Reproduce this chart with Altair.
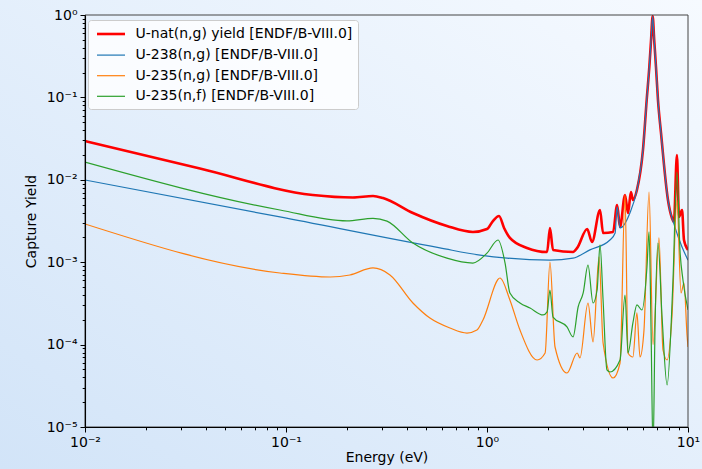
import altair as alt
import pandas as pd

# Series labels, colours and line widths
series_names = [
    "U-nat(n,g) yield [ENDF/B-VIII.0]",
    "U-238(n,g) [ENDF/B-VIII.0]",
    "U-235(n,g) [ENDF/B-VIII.0]",
    "U-235(n,f) [ENDF/B-VIII.0]",
]
series_colors = ["#ff0000", "#1f77b4", "#ff7f0e", "#2ca02c"]
series_widths = [2.6, 1.2, 1.2, 1.2]

# Natural uranium capture yield
unat_energy = [0.01, 0.0373, 0.136, 0.215, 0.271, 0.304, 0.428, 0.632, 0.851, 1.0, 1.07,
               1.148, 1.216, 1.30, 1.581, 1.991, 2.057, 2.13, 2.68, 2.81, 3.15, 3.33, 3.65,
               3.78, 4.24, 4.44, 4.59, 4.86, 5.03, 5.20, 5.32, 5.57, 5.97, 6.23, 6.42, 6.55,
               6.67, 6.79, 6.93, 7.09, 7.34, 7.95, 8.32, 8.51, 8.81, 9.02, 9.34, 9.55, 10.0]
unat_yield = [0.0296, 0.0137, 0.00654, 0.0061, 0.00636, 0.00601, 0.00395, 0.00275, 0.00233,
              0.00253, 0.00316, 0.00364, 0.0026, 0.00197, 0.00149, 0.00133, 0.0026, 0.00141,
              0.00133, 0.00149, 0.00253, 0.00176, 0.0043, 0.00226, 0.00233, 0.00494, 0.00267,
              0.00654, 0.00395, 0.00711, 0.00568, 0.00752, 0.023, 0.093, 0.234, 0.497, 0.97,
              0.497, 0.234, 0.093, 0.037, 0.00568, 0.00344, 0.00308, 0.02, 0.00354, 0.0043,
              0.00186, 0.00141]

# U-238 capture
u238g_energy = [0.01, 0.0933, 0.583, 0.923, 1.259, 2.057, 2.68, 3.25, 4.09, 4.34, 4.44, 4.59,
                5.14, 5.57, 5.97, 6.23, 6.42, 6.55, 6.67, 6.79, 6.93, 7.09, 7.34, 7.95, 8.61,
                9.34, 10.0]
u238g_yield = [0.00995, 0.00354, 0.00149, 0.00122, 0.00112, 0.00106, 0.00112, 0.00141, 0.00186,
               0.00226, 0.00468, 0.0026, 0.00395, 0.00752, 0.023, 0.093, 0.234, 0.497, 0.97,
               0.497, 0.234, 0.093, 0.037, 0.00568, 0.00267, 0.00153, 0.00106]

# U-235 capture
u235g_energy = [0.01, 0.0933, 0.166, 0.208, 0.271, 0.329, 0.428, 0.52, 0.654, 0.795, 0.891,
                0.955, 1.161, 1.30, 1.459, 1.775, 1.946, 2.057, 2.18, 2.50, 2.81, 2.90, 3.18,
                3.37, 3.61, 3.78, 4.24, 4.59, 4.86, 5.03, 5.32, 5.57, 5.77, 6.04, 6.40, 6.70,
                7.17, 7.51, 7.87, 8.32, 8.81, 9.23, 9.55, 9.89, 10.0]
u235g_yield = [0.00291, 0.00074, 0.000661, 0.0007, 0.000851, 0.0007, 0.00032, 0.00021,
               0.000159, 0.000138, 0.00015, 0.000199, 0.000643, 0.000348, 0.00015, 0.000065,
               0.0000791, 0.001, 0.0000935, 0.0000452, 0.0000791, 0.0000688, 0.00032, 0.000108,
               0.00116, 0.000105, 0.0000393, 0.0000598, 0.00654, 0.0000791, 0.0000707, 0.000242,
               0.0000707, 0.00015, 0.00711, 0.0001, 0.00197, 0.000086, 0.000065, 0.000216,
               0.00568, 0.000423, 0.000559, 0.000131, 0.0000935]

# U-235 fission
u235f_energy = [0.01, 0.0933, 0.201, 0.271, 0.318, 0.428, 0.632, 0.851, 1.0, 1.135, 1.23, 1.30,
                1.459, 1.637, 1.901, 1.991, 2.057, 2.13, 2.50, 2.68, 2.84, 3.01, 3.18, 3.37,
                3.53, 3.65, 3.78, 3.95, 4.09, 4.59, 4.86, 5.03, 5.32, 5.57, 5.90, 6.25, 6.40,
                6.55, 6.70, 6.85, 7.09, 7.43, 7.87, 8.41, 8.81, 9.12, 9.44, 10.0]
u235f_yield = [0.0164, 0.0043, 0.00317, 0.00341, 0.00315, 0.00171, 0.00112, 0.000977, 0.00129,
               0.00186, 0.000977, 0.000423, 0.00032, 0.000278, 0.000229, 0.000249, 0.00046,
               0.000216, 0.000164, 0.000124, 0.000286, 0.000423, 0.000925, 0.00032, 0.00046,
               0.00162, 0.000348, 0.0000492, 0.0000465, 0.000065, 0.0004, 0.0000791, 0.000183,
               0.000303, 0.000263, 0.000875, 0.00233, 0.00015, 0.000005, 0.00015, 0.00171,
               0.000216, 0.0000324, 0.000559, 0.01244, 0.00141, 0.000608, 0.000263]

# Axis tick positions and labels
x_major = [0.01, 0.1, 1, 10]
x_major_labels = ["10\u207b\u00b2", "10\u207b\u00b9", "10\u2070", "10\u00b9"]
y_major = [0.00001, 0.0001, 0.001, 0.01, 0.1, 1]
y_major_labels = ["10\u207b\u2075", "10\u207b\u2074", "10\u207b\u00b3",
                  "10\u207b\u00b2", "10\u207b\u00b9", "10\u2070"]

W, H = 603, 412

rows = []
for name, es, ys in zip(series_names,
                        [unat_energy, u238g_energy, u235g_energy, u235f_energy],
                        [unat_yield, u238g_yield, u235g_yield, u235f_yield]):
    for i, (e, y) in enumerate(zip(es, ys)):
        rows.append({"series": name, "energy": e, "yield": y, "idx": i})
df = pd.DataFrame(rows)


def minor_ticks(majors):
    vals = []
    for m in majors[:-1]:
        vals += [m * k for k in range(2, 10)]
    return vals


def label_expr(values, labels):
    expr = "''"
    for v, lab in zip(reversed(values), reversed(labels)):
        expr = f"datum.value == {v} ? '{lab}' : ({expr})"
    return expr


def major_test(values):
    return "indexof([" + ",".join(str(v) for v in values) + "], datum.value) >= 0"


axis_style = dict(
    grid=False,
    zindex=1,
    domainColor="#000000",
    domainWidth=1.1,
    tickColor="#000000",
    tickWidth=1,
    labelFont="DejaVu Sans",
    labelFontSize=14,
    labelColor="#000000",
    labelPadding=3,
    labelOverlap=False,
    labelFlush=False,
    titleFont="DejaVu Sans",
    titleFontSize=14,
    titleFontWeight="normal",
    titleColor="#000000",
)

x_axis = alt.Axis(
    values=x_major + minor_ticks(x_major),
    labelExpr=label_expr(x_major, x_major_labels),
    tickSize={"condition": {"test": major_test(x_major), "value": 5}, "value": 2.8},
    title="Energy (eV)",
    titlePadding=1,
    **axis_style,
)
y_axis = alt.Axis(
    values=y_major + minor_ticks(y_major),
    labelExpr=label_expr(y_major, y_major_labels),
    tickSize={"condition": {"test": major_test(y_major), "value": 5}, "value": 2.8},
    title="Capture Yield",
    titlePadding=8,
    **axis_style,
)

x_enc = alt.X("energy:Q", scale=alt.Scale(type="log", domain=[0.01, 10], nice=False), axis=x_axis)
y_enc = alt.Y("yield:Q", scale=alt.Scale(type="log", domain=[0.00001, 1], nice=False), axis=y_axis)
legend = alt.Legend(title=None)
color_enc = alt.Color("series:N", scale=alt.Scale(domain=series_names, range=series_colors), legend=legend)
width_enc = alt.StrokeWidth("series:N", scale=alt.Scale(type="ordinal", domain=series_names, range=series_widths), legend=legend)

# Soft gradient backdrop behind the whole figure
backdrop = alt.Chart(alt.Data(values=[{"k": 1}])).mark_rect(
    fill=alt.LinearGradient(
        gradient="linear",
        x1=0, y1=1, x2=1, y2=0,
        stops=[alt.GradientStop(offset=0, color="#d2e4f8"),
               alt.GradientStop(offset=1, color="#f6faff")],
    )
).encode(x=alt.value(-85), x2=alt.value(W + 14), y=alt.value(-15), y2=alt.value(H + 42))

base = alt.Chart(df)
lines = [
    base.transform_filter(alt.datum.series == name)
    .mark_line(clip=True, interpolate="monotone")
    .encode(x=x_enc, y=y_enc, color=color_enc, strokeWidth=width_enc, order="idx:Q")
    for name in series_names
]

frame = alt.Chart(alt.Data(values=[{"k": 1}])).mark_rect(
    filled=False, stroke="#444444", strokeWidth=1
).encode(x=alt.value(0), x2=alt.value(W), y=alt.value(0), y2=alt.value(H))

chart = alt.layer(backdrop, *lines, frame).properties(
    width=W, height=H,
    autosize="none",
    padding={"left": 85, "top": 15, "right": 14, "bottom": 42},
    background="#e6f0fb",
).configure_view(stroke=None).configure_legend(
    orient="none",
    legendX=3,
    legendY=5,
    fillColor="rgba(255,255,255,0.8)",
    strokeColor="#cccccc",
    cornerRadius=3,
    padding=5.5,
    symbolType="M-2,0H2",
    symbolSize=196,
    symbolOffset=9,
    labelFont="DejaVu Sans",
    labelFontSize=14,
    labelColor="#000000",
    labelOffset=16,
    rowPadding=5.6,
    labelLimit=400,
)

chart.save("out.html", embed_options={"renderer": "svg", "actions": False})
